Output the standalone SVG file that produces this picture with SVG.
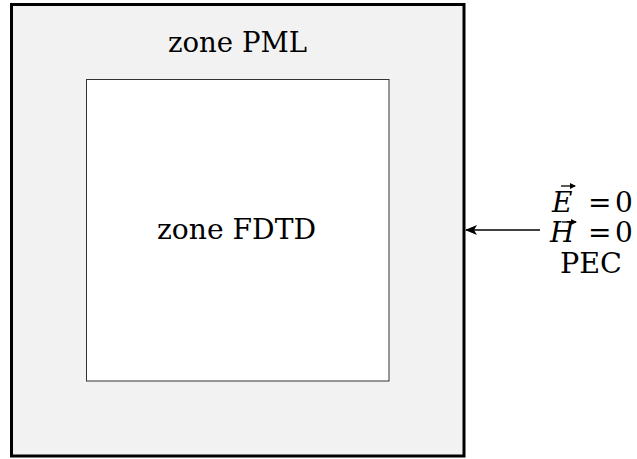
<svg xmlns="http://www.w3.org/2000/svg" width="637" height="459" viewBox="0 0 637 459">
<defs>
<style>
.t{font-family:"DejaVu Serif","Liberation Serif","Times New Roman",serif;font-size:28px;fill:#000}
.i{font-style:italic}
</style>
<marker id="ah" markerWidth="12" markerHeight="10" refX="11" refY="5" orient="auto" markerUnits="userSpaceOnUse">
<path d="M0,0 L12,5 L0,10 L3,5 Z" fill="#000"/>
</marker>
<marker id="vh" markerWidth="6" markerHeight="6" refX="5" refY="3" orient="auto" markerUnits="userSpaceOnUse">
<path d="M0,0 L6,3 L0,6 Z" fill="#000"/>
</marker>
</defs>
<rect width="637" height="459" fill="#fff"/>
<g id="pml">
<rect x="11.5" y="4.5" width="452.5" height="451.5" fill="#f2f2f2" stroke="#000" stroke-width="3"/>
<text class="t" x="168" y="52" textLength="139" lengthAdjust="spacingAndGlyphs">zone PML</text>
</g>
<g id="fdtd">
<rect x="86.5" y="79.5" width="302.5" height="301.5" fill="#fff" stroke="#333" stroke-width="1"/>
<text class="t" x="157" y="239" textLength="159" lengthAdjust="spacingAndGlyphs">zone FDTD</text>
</g>
<g id="pec">
<text class="t" y="212"><tspan class="i" x="552">E</tspan><tspan x="588">=</tspan><tspan x="615">0</tspan></text>
<text class="t" y="242"><tspan class="i" x="550">H</tspan><tspan x="588">=</tspan><tspan x="615">0</tspan></text>
<text class="t" x="560" y="273" textLength="62" lengthAdjust="spacingAndGlyphs">PEC</text>
<path d="M561,186 L575,186" stroke="#000" stroke-width="1.3" marker-end="url(#vh)"/>
<path d="M562,222 L576,222" stroke="#000" stroke-width="1.3" marker-end="url(#vh)"/>
</g>
<g id="connectors">
<path d="M540,230 L466,230" stroke="#000" stroke-width="1.5" fill="none" marker-end="url(#ah)"/>
</g>
</svg>
